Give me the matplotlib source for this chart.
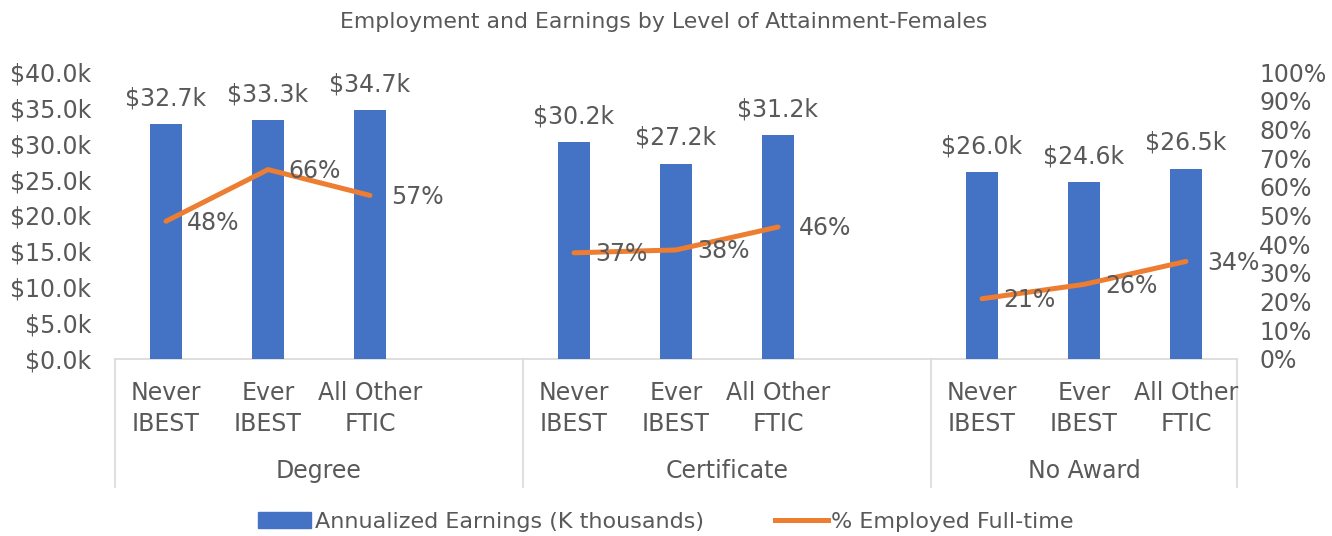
import matplotlib.pyplot as plt
import numpy as np
from matplotlib.patches import Patch
from matplotlib.lines import Line2D

plt.rcParams['font.family'] = ['DejaVu Sans']

groups = ["Degree", "Certificate", "No Award"]
subcats = ["Never\nIBEST", "Ever\nIBEST", "All Other\nFTIC"]
earnings = [[32.7, 33.3, 34.7], [30.2, 27.2, 31.2], [26.0, 24.6, 26.5]]  # $K
employed = [[48, 66, 57], [37, 38, 46], [21, 26, 34]]  # %

BLUE = "#4472C4"
ORANGE = "#ED7D31"
TXT = "#595959"
GRID = "#D9D9D9"
FS = 17

fig = plt.figure(figsize=(13.32, 5.36), dpi=100)
ax = fig.add_axes([115 / 1332, (536 - 359) / 536, 1122 / 1332, 287 / 536])
ax2 = ax.twinx()

# each group takes 4 slots, last slot left empty as a gap
xpos = [[g * 4 + i for i in range(3)] for g in range(3)]

for g in range(3):
    bars = ax.bar(xpos[g], earnings[g], width=0.31, color=BLUE, zorder=2)
    for b, v in zip(bars, earnings[g]):
        ax.annotate(f"${v:.1f}k", (b.get_x() + b.get_width() / 2, v),
                    xytext=(0, 10), textcoords="offset points",
                    ha="center", va="bottom", fontsize=FS, color=TXT)
    ax2.plot(xpos[g], employed[g], color=ORANGE, lw=3.6, solid_capstyle="round", zorder=3)
    for x, v in zip(xpos[g], employed[g]):
        ax2.annotate(f"{v}%", (x, v), xytext=(15, -1), textcoords="offset points",
                     ha="left", va="center", fontsize=FS, color=TXT)

ax.set_xlim(-0.5, 10.5)
ax.set_ylim(0, 40)
ax2.set_ylim(0, 100)
ax.set_yticks(np.arange(0, 40.1, 5))
ax.set_yticklabels([f"${v:.1f}k" for v in np.arange(0, 40.1, 5)])
ax2.set_yticks(np.arange(0, 101, 10))
ax2.set_yticklabels([f"{v}%" for v in range(0, 101, 10)])
ax.tick_params(axis="y", length=0, pad=17, labelsize=FS, labelcolor=TXT)
ax2.tick_params(axis="y", length=0, pad=16, labelsize=FS, labelcolor=TXT)
ax.set_xticks([])

for a in (ax, ax2):
    for s in a.spines.values():
        s.set_visible(False)

ax.axhline(0, color=GRID, lw=1.2, zorder=1, clip_on=False)

# two-level category axis
tr = ax.get_xaxis_transform()
for g in range(3):
    for i, x in enumerate(xpos[g]):
        ax.text(x, -0.075, subcats[i], transform=tr, ha="center", va="top",
                fontsize=FS, color=TXT, linespacing=1.38)
    left = g * 4 - 0.5
    right = min(g * 4 + 3.5, 10.5)
    ax.text((left + right) / 2, -0.39, groups[g], transform=tr, ha="center",
            va="center", fontsize=FS, color=TXT)
for xs in [-0.5, 3.5, 7.5, 10.5]:
    ax.plot([xs, xs], [0, -0.446], transform=tr, color=GRID, lw=1.2, clip_on=False)

fig.text(0.498, 1 - 22 / 536, "Employment and Earnings by Level of Attainment-Females",
         ha="center", va="center", fontsize=15.8, color=TXT)

handles = [Patch(color=BLUE), Line2D([0], [0], color=ORANGE, lw=3.6)]
fig.legend(handles, ["Annualized Earnings (K thousands)", "% Employed Full-time"],
           loc="center", bbox_to_anchor=(0.5, 1 - 522 / 536), ncol=2, frameon=False,
           fontsize=16, labelcolor=TXT, handlelength=2.4, handletextpad=0.15,
           columnspacing=3.2)

fig.savefig("out.png", dpi=100)
